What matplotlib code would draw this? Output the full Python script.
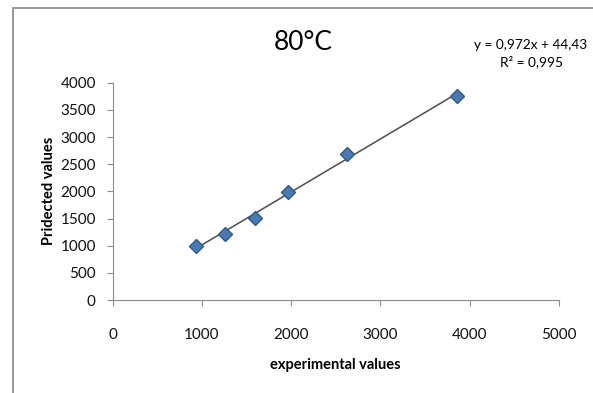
import numpy as np
import matplotlib.pyplot as plt
from matplotlib.patches import Rectangle

plt.rcParams['font.family'] = ['Lato', 'DejaVu Sans']

# valeurs
experimental = np.array([932, 1263, 1599, 1969, 2623, 3861])
predicted = np.array([1000, 1210, 1516, 1989, 2694, 3762])
title = "80°C"
equation = "y = 0,972x + 44,43\nR² = 0,995"

fig = plt.figure(figsize=(5.93, 3.93), dpi=100)
ax = fig.add_axes([112.5 / 593, 93 / 393, (559 - 112.5) / 593, (300 - 82.7) / 393])

# cadre gris autour du graphique
fig.patches.append(Rectangle((13 / 593, -0.05), 1.1, 1 - 8 / 393 + 0.05,
                             transform=fig.transFigure, fill=False,
                             edgecolor="#9a9a9a", linewidth=1.4))

# tendance linéaire
a, b = np.polyfit(experimental, predicted, 1)
xs = np.array([experimental.min(), experimental.max()])
ax.plot(xs, a * xs + b, color="#4d4d4d", linewidth=1.1, zorder=2)
ax.plot(experimental, predicted, "D", color="#4a7ab0", markeredgecolor="#2f5a8a",
        markersize=7, zorder=3)

ax.set_xlim(0, 5000)
ax.set_ylim(0, 4000)
ax.set_xticks(np.arange(0, 5001, 1000))
ax.set_yticks(np.arange(0, 4001, 500))
for s in ["top", "right"]:
    ax.spines[s].set_visible(False)
for s in ["left", "bottom"]:
    ax.spines[s].set_color("#8c8c8c")
ax.tick_params(colors="#8c8c8c", labelcolor="#111111", labelsize=11, length=4)
ax.tick_params(axis="x", pad=16)
ax.tick_params(axis="y", pad=8)

ax.set_xlabel("experimental values", fontsize=10.5, fontweight="bold", labelpad=12)
ax.set_ylabel("Pridected values", fontsize=10.5, fontweight="bold", labelpad=3)

fig.text(303 / 593, 1 - 42 / 393, title, fontsize=19, ha="center", va="center")
fig.text(531 / 593, 1 - 54 / 393, equation, fontsize=9.8, ha="center", va="center",
         linespacing=1.4)

fig.savefig("out.png", dpi=100)
